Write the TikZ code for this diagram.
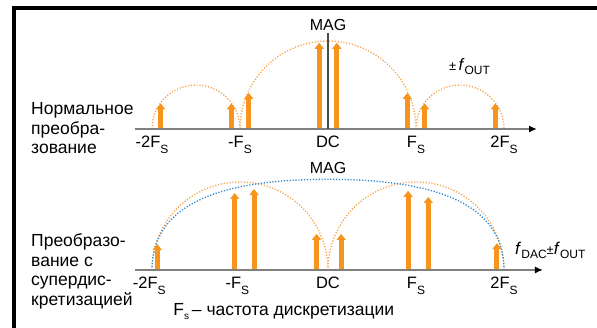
\documentclass[tikz,border=0pt]{standalone}
\usepackage{fontspec}
\setmainfont{Liberation Sans}
\usetikzlibrary{arrows.meta}
\definecolor{naranja}{HTML}{F7941D}
\definecolor{naranjaclaro}{HTML}{F8A445}
\definecolor{azul}{HTML}{2A86CC}
\newcommand{\bajo}[2][6pt]{\raisebox{-#1}{\fontsize{12}{12}\selectfont #2}}
\newcommand{\Fs}{F\bajo[6.5pt]{S}}
\tikzset{
  espectro/.style={naranja, line width=5pt, -{Triangle[width=9pt,length=6pt]}},
  envolvente/.style={naranjaclaro, line width=1.3pt, dash pattern=on 1.2pt off 1.7pt},
  envazul/.style={envolvente, azul},
  eje/.style={black!50, line width=1.8pt, -{Latex[length=8pt,width=7pt,black]}},
  etiq/.style={font=\fontsize{16.5}{16.5}\selectfont, anchor=base, inner sep=0pt},
  rotulo/.style={font=\fontsize{17.5}{19.5}\selectfont, align=left, anchor=base west, inner sep=0pt}
}
\begin{document}
\begin{tikzpicture}[x=88pt, y=88pt, line cap=butt]
  \useasboundingbox (-3.7273,-2.25) rectangle (3.0568,1.4659);
  % el marco
  \draw[line width=3.5pt, line join=miter] (-3.568,-2.4) -- (-3.568,1.375) -- (3.2,1.375);
  % conversion normal
  \coordinate (ejeA0) at (-2.193,0);
  \coordinate (ejeA1) at (2.375,0);
  \draw[envolvente] (-2,0) arc (180:0:0.5);
  \draw[envolvente] (-1,0) arc (180:0:1);
  \draw[envolvente] (1,0) arc (180:0:0.5);
  \draw[espectro] (-1.9,0) -- (-1.9,0.29);
  \draw[espectro] (-1.1,0) -- (-1.1,0.29);
  \draw[espectro] (-0.9,0) -- (-0.9,0.41);
  \draw[espectro] (-0.1,0) -- (-0.1,0.98);
  \draw[espectro] (0.1,0) -- (0.1,0.98);
  \draw[espectro] (0.9,0) -- (0.9,0.41);
  \draw[espectro] (1.1,0) -- (1.1,0.29);
  \draw[espectro] (1.9,0) -- (1.9,0.29);
  \draw[eje] (ejeA0) -- (ejeA1);
  \coordinate (magA) at (0,1.09);
  \draw[black!70, line width=1.2pt] (0,0) -- (magA);
  \node[etiq, font=\fontsize{16}{16}\selectfont] (magtxtA) at (0,1.125) {MAG};
  \node[etiq] (mdosA) at (-2,-0.21) {-2\Fs};
  \node[etiq] (munoA) at (-1,-0.21) {-\Fs};
  \node[etiq] (dcA) at (0,-0.21) {DC};
  \node[etiq] (unoA) at (1,-0.21) {\Fs};
  \node[etiq] (dosA) at (2,-0.21) {2\Fs};
  \node[etiq, anchor=base west, font=\fontsize{16.5}{16.5}\selectfont] (fout) at (1.375,0.67)
    {\fontsize{13}{13}\selectfont ±\,\fontsize{16.5}{16.5}\selectfont\textit{f}\bajo[4pt]{OUT}};
  \node[rotulo] (normal) at (-3.375,-0.284) {Нормальное\\преобра-\\зование};
  % conversion con sobremuestreo
  \begin{scope}[shift={(0,-1.602)}]
    \coordinate (ejeB0) at (-2.193,0);
    \coordinate (ejeB1) at (2.443,0);
    \draw[envolvente] (-2,0) arc (180:0:1);
    \draw[envolvente] (0,0) arc (180:0:1);
    \draw[envazul] (-2,0) .. controls (-2,0.85) and (-1,1.03) .. (0,1.03)
      .. controls (1,1.03) and (2,0.85) .. (2,0);
    \draw[espectro] (-1.94,0) -- (-1.94,0.295);
    \draw[espectro] (-1.06,0) -- (-1.06,0.875);
    \draw[espectro] (-0.84,0) -- (-0.84,0.92);
    \draw[espectro] (-0.13,0) -- (-0.13,0.41);
    \draw[espectro] (0.15,0) -- (0.15,0.41);
    \draw[espectro] (0.91,0) -- (0.91,0.9);
    \draw[espectro] (1.14,0) -- (1.14,0.83);
    \draw[espectro] (1.92,0) -- (1.92,0.305);
    \draw[eje] (ejeB0) -- (ejeB1);
    \node[etiq, font=\fontsize{16}{16}\selectfont] (magtxtB) at (0,1.1) {MAG};
    \node[etiq] (mdosB) at (-2.03,-0.21) {-2\Fs};
    \node[etiq] (munoB) at (-1.03,-0.21) {-\Fs};
    \node[etiq] (dcB) at (0,-0.21) {DC};
    \node[etiq] (unoB) at (1,-0.21) {\Fs};
    \node[etiq] (dosB) at (2,-0.21) {2\Fs};
    \node[etiq, anchor=base west, font=\fontsize{17}{17}\selectfont] (fdac) at (2.125,0.18)
      {\textit{f}\bajo[4pt]{DAC}\fontsize{13}{13}\selectfont ±\fontsize{17}{17}\selectfont\textit{f}\bajo[4pt]{OUT}};
    \node[rotulo] (sobre) at (-3.375,-0.398) {Преобразо-\\вание с\\супердис-\\кретизацией};
    \node[etiq, anchor=base west, font=\fontsize{17.5}{17.5}\selectfont] (leyenda) at (-1.76,-0.52)
      {F\bajo[4pt]{\fontsize{10}{10}\selectfont s}\,– частота дискретизации};
  \end{scope}
\end{tikzpicture}
\end{document}
